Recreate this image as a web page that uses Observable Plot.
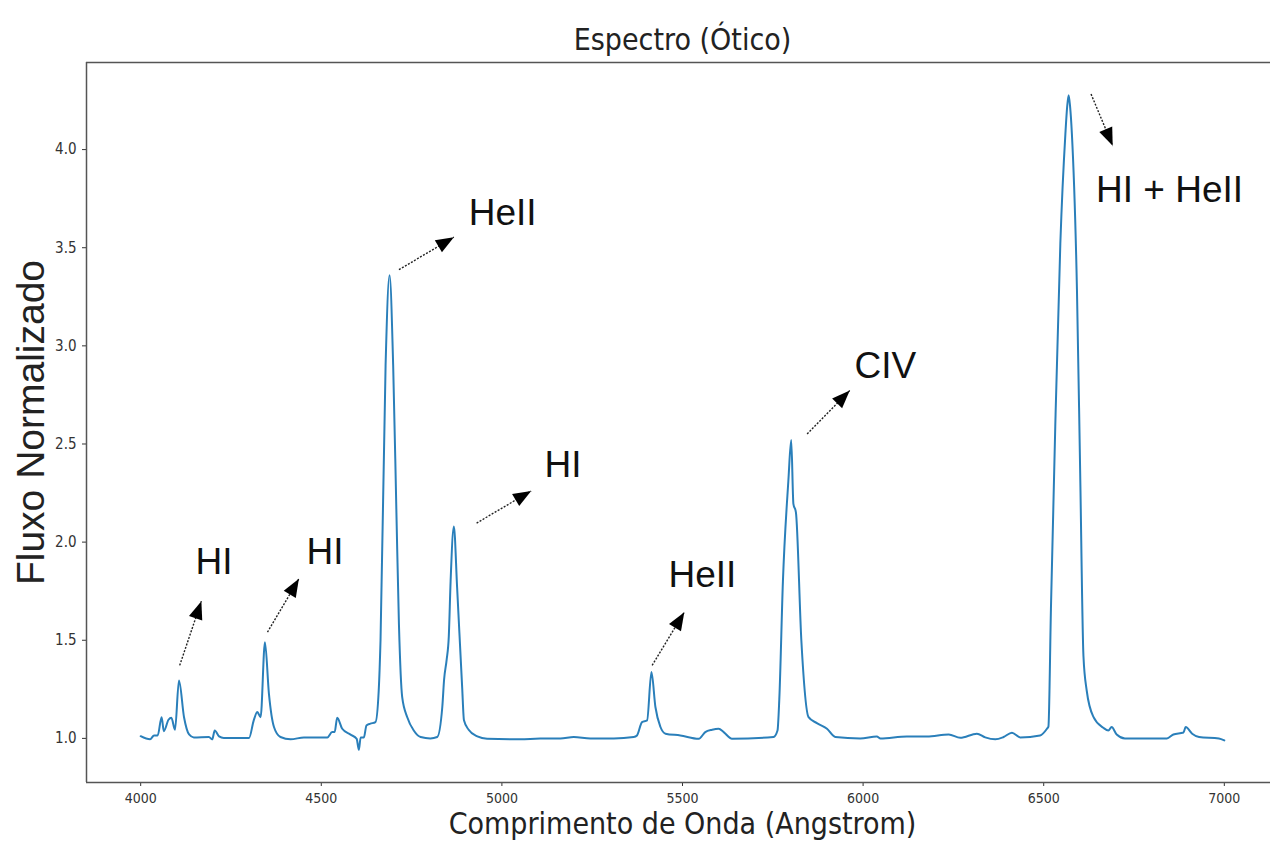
<!DOCTYPE html>
<html><head><meta charset="utf-8">
<script src="https://cdn.jsdelivr.net/npm/d3@7"></script>
<script src="https://cdn.jsdelivr.net/npm/@observablehq/plot@0.6"></script>
<style>body{margin:0;background:#fff} svg{display:block}</style>
</head><body><div id="chart"></div>
<script>
// Spectrum (wavelength in Angstrom, normalized flux)
const wavelength = [4000,4026,4037,4047,4058,4064,4077,4085,4095,4106,4120,4134,4147,4189,4198,4205,4217,4230,4300,4313,4323,4332,4344,4355,4369,4387,4415,4452,4517,4530,4537,4544,4558,4581,4598,4604,4609,4618,4625,4636,4650,4659,4664,4678,4689,4699,4708,4715,4724,4738,4756,4775,4802,4821,4835,4840,4847,4853,4858,4867,4876,4890,4895,4908,4932,4959,5051,5106,5162,5199,5245,5310,5365,5374,5388,5402,5414,5425,5439,5453,5494,5545,5563,5582,5600,5614,5637,5752,5763,5768,5778,5793,5801,5807,5814,5829,5849,5872,5900,5923,5992,6038,6048,6121,6177,6237,6269,6315,6338,6366,6389,6412,6435,6490,6509,6513,6520,6532,6546,6560,6565,6569,6573,6578,6592,6601,6610,6619,6638,6665,6679,6688,6702,6725,6841,6859,6887,6893,6911,6930,6985,7000];
const flux = [1.011,0.995,1.015,1.015,1.108,1.037,1.095,1.105,1.044,1.295,1.108,1.02,1.005,1.007,0.995,1.04,1.01,1.002,1.002,1.092,1.134,1.108,1.49,1.228,1.058,1.007,0.995,1.005,1.005,1.032,1.032,1.105,1.049,1.019,0.998,0.942,1.005,1.005,1.066,1.075,1.083,1.244,1.5,2.9,3.36,2.9,2.15,1.58,1.21,1.108,1.04,1.007,1.0,1.007,1.16,1.30,1.40,1.52,1.80,2.08,1.77,1.26,1.092,1.044,1.01,0.998,0.995,1.0,1.0,1.007,1.0,1.0,1.007,1.015,1.083,1.092,1.338,1.16,1.058,1.024,1.015,0.998,1.032,1.044,1.049,1.032,0.998,1.007,1.04,1.2,1.80,2.31,2.52,2.195,2.152,1.5,1.108,1.078,1.049,1.007,1.0,1.01,1.0,1.01,1.01,1.02,1.003,1.024,1.005,0.995,1.007,1.029,1.005,1.015,1.049,1.06,1.66,2.59,3.52,4.08,4.22,4.277,4.22,4.08,3.29,2.35,1.42,1.244,1.108,1.054,1.04,1.058,1.02,1.0,1.0,1.02,1.03,1.058,1.024,1.007,1.0,0.99];

const xTicks = [4000,4500,5000,5500,6000,6500,7000];
const yTicks = [1.0,1.5,2.0,2.5,3.0,3.5,4.0];

// Annotations
const annLabels = ["HI","HI","HeII","HI","HeII","CIV","HI + HeII"];
const annTailX = [4108,4351,4715,4930,5416,5845,6631];
const annTailY = [1.372,1.541,3.388,2.097,1.372,2.551,4.283];
const annHeadX = [4168,4438,4867,5081,5505,5963,6691];
const annHeadY = [1.699,1.813,3.554,2.261,1.643,2.772,4.019];
const annTextX = [4152,4459,4908,5118,5461,5976,6645];
const annTextY = [1.840,1.886,3.617,2.334,1.769,2.838,3.734];

const titleText = "Espectro (Ótico)";
const xLabel = "Comprimento de Onda (Angstrom)";
const yLabel = "Fluxo Normalizado";

// matplotlib-like 5% margins
const xMin = d3.min(wavelength), xMax = d3.max(wavelength);
const yMin = d3.min(flux), yMax = d3.max(flux);
const xPad = 0.05 * (xMax - xMin), yPad = 0.05 * (yMax - yMin);
const xDomain = [xMin - xPad, xMax + xPad];
const yDomain = [yMin - yPad, yMax + yPad];

const W = 1270, H = 862;
const mL = 86, mT = 62, mB = 80;
const xRange = [mL, 1278];
const yRange = [H - mB, mT];

const xs = Plot.scale({x: {domain: xDomain, range: xRange}});
const ys = Plot.scale({y: {domain: yDomain, range: yRange}});

const spectrum = wavelength.map((w, i) => ({w, f: flux[i]}));
const ann = annLabels.map((label, i) => {
  const dx = xs.apply(annHeadX[i]) - xs.apply(annTailX[i]);
  const dy = ys.apply(annHeadY[i]) - ys.apply(annTailY[i]);
  return {
    label, tx: annTailX[i], ty: annTailY[i], hx: annHeadX[i], hy: annHeadY[i],
    lx: annTextX[i], ly: annTextY[i],
    angle: Math.atan2(dx, -dy) * 180 / Math.PI
  };
});

const arrowHead = {draw(ctx) { ctx.moveTo(0, 0); ctx.lineTo(-7, 18); ctx.lineTo(7, 18); ctx.closePath(); }};

const condensed = "'DejaVu Sans Condensed', 'DejaVu Sans', sans-serif";
const sans = "'Liberation Sans', Arial, sans-serif";

const chart = Plot.plot({
  width: W, height: H,
  marginLeft: mL, marginRight: 0, marginTop: mT, marginBottom: mB,
  x: {domain: xDomain, range: xRange},
  y: {domain: yDomain, range: yRange},
  style: {fontFamily: condensed, background: "#fff", overflow: "hidden"},
  marks: [
    Plot.axisX({ticks: xTicks, tickSize: 4, tickPadding: 7, fontSize: 14, label: null, color: "#333", tickFormat: d3.format("d")}),
    Plot.axisY({ticks: yTicks, tickSize: 4, tickPadding: 6, fontSize: 15, label: null, color: "#333", tickFormat: d => d.toFixed(1)}),
    Plot.ruleX([xDomain[0]], {stroke: "#555", strokeWidth: 1.5}),
    Plot.ruleY([yDomain[0], yDomain[1]], {stroke: "#555", strokeWidth: 1.5}),
    Plot.line(spectrum, {x: "w", y: "f", stroke: "#2a7fba", strokeWidth: 2, curve: "monotone-x"}),
    Plot.link(ann, {x1: "tx", y1: "ty", x2: "hx", y2: "hy", stroke: "#222", strokeWidth: 1.4, strokeDasharray: "2,1.5"}),
    Plot.dot(ann, {x: "hx", y: "hy", symbol: arrowHead, rotate: "angle", fill: "#000", stroke: "none"}),
    Plot.text(ann, {x: "lx", y: "ly", text: "label", textAnchor: "start", lineAnchor: "bottom", fontSize: 37, fontFamily: sans, fill: "#111"}),
    Plot.text([titleText], {x: (xDomain[0] + xDomain[1]) / 2, frameAnchor: "top", dy: -34, fontSize: 30, fontFamily: condensed, fill: "#222"}),
    Plot.text([xLabel], {x: (xDomain[0] + xDomain[1]) / 2, frameAnchor: "bottom", dy: 51, fontSize: 30, fontFamily: condensed, fill: "#222"}),
    Plot.text([yLabel], {frameAnchor: "left", textAnchor: "middle", dx: -55, rotate: -90, fontSize: 39, fontFamily: sans, fill: "#222"})
  ]
});
document.getElementById("chart").append(chart);
</script>
</body></html>
